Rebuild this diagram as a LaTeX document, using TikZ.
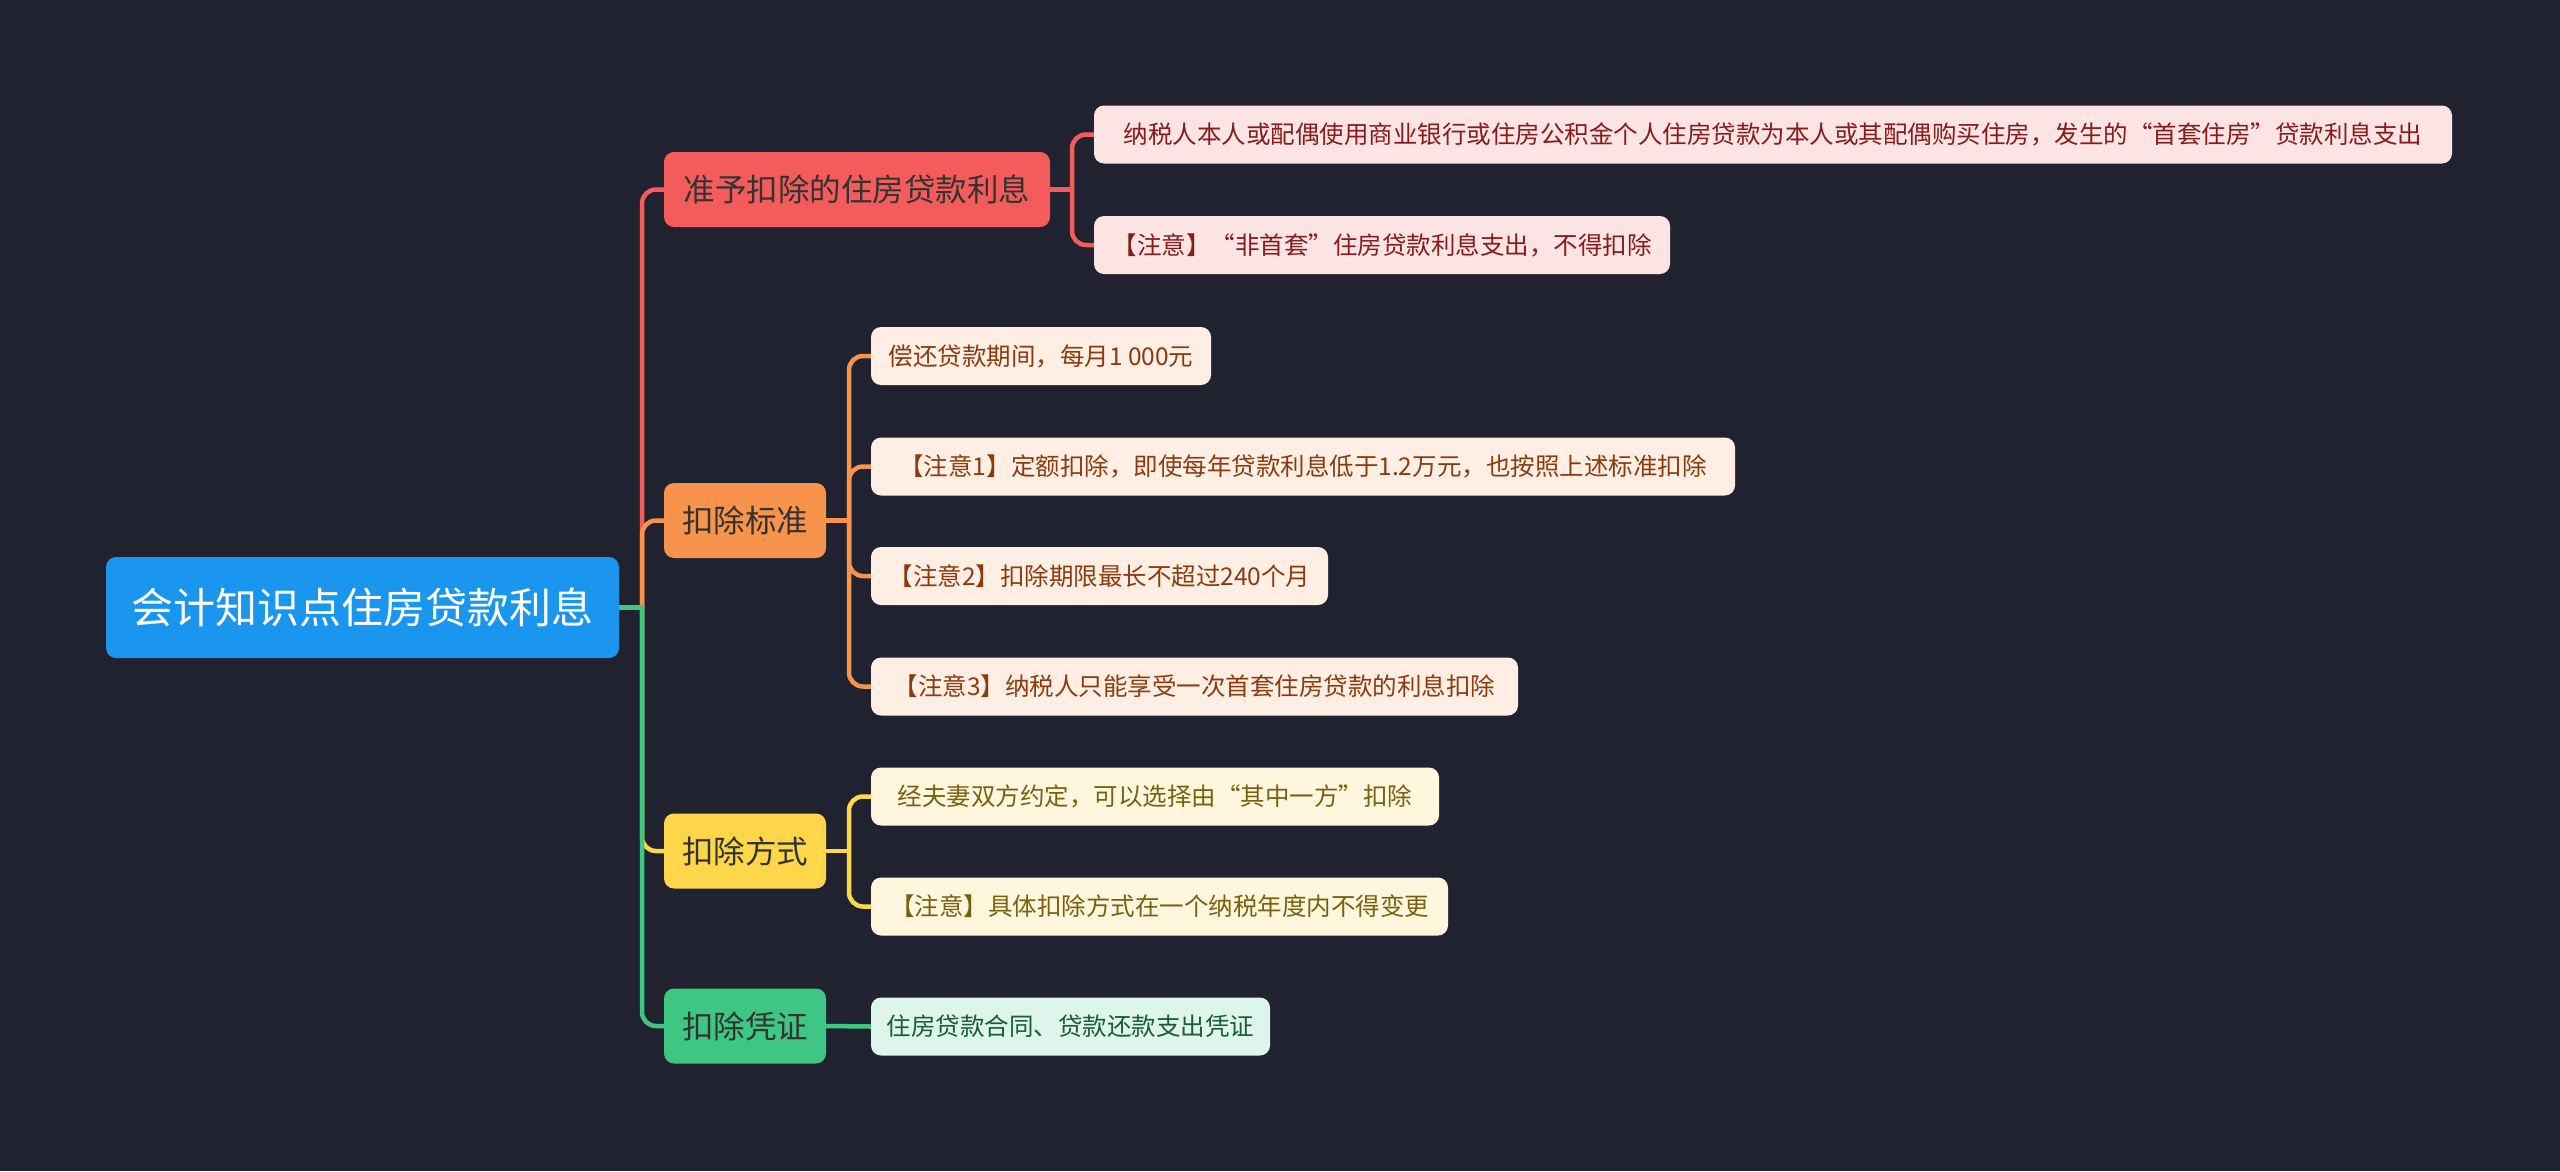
\documentclass[tikz,border=0pt]{standalone}
\usepackage{fontspec}
\newfontfamily\cjk{Noto Sans CJK SC}
\definecolor{bg}{HTML}{20232F}
\definecolor{rootc}{HTML}{1B96EF}
\definecolor{redc}{HTML}{F45C5C}
\definecolor{redl}{HTML}{FDE4E4}
\definecolor{redt}{HTML}{861C1C}
\definecolor{orc}{HTML}{F8934C}
\definecolor{orl}{HTML}{FEEEE3}
\definecolor{ort}{HTML}{8A3C0F}
\definecolor{yec}{HTML}{FDD649}
\definecolor{yel}{HTML}{FEF6DD}
\definecolor{yet}{HTML}{7A6110}
\definecolor{grc}{HTML}{3EC683}
\definecolor{grl}{HTML}{DDF5EA}
\definecolor{grt}{HTML}{1C5A3B}
\definecolor{brt}{HTML}{333333}
\pgfdeclarelayer{bglayer}
\pgfdeclarelayer{connlayer}
\pgfsetlayers{bglayer,connlayer,main}
\tikzset{
  box/.style={rectangle, rounded corners=10pt, inner sep=0pt, font=\cjk},
  rootbox/.style={box, fill=rootc, text=white, minimum height=101pt, font=\cjk\fontsize{42}{50}\selectfont},
  branchbox/.style={box, text=brt, minimum height=75pt, font=\cjk\fontsize{31.5}{38}\selectfont},
  leafbox/.style={box, minimum height=58pt, font=\cjk\fontsize{24.5}{30}\selectfont},
  conn/.style={line width=4.5pt, line cap=round},
  rconn/.style={conn, draw=redc},
  oconn/.style={conn, draw=orc},
  yconn/.style={conn, draw=yec},
  gconn/.style={conn, draw=grc},
}
\begin{document}
\begin{tikzpicture}[x=1pt,y=-1pt]
\useasboundingbox (0,0) rectangle (2560,1171);
\begin{pgfonlayer}{bglayer}
\fill[bg] (0,0) rectangle (2560,1171);
\end{pgfonlayer}

% root and branches
\node[rootbox, minimum width=513pt] (root) at (362.5,607.5) {会计知识点住房贷款利息};
\node[branchbox, fill=redc, minimum width=386pt] (b1) at (857,189.5) {准予扣除的住房贷款利息};
\node[branchbox, fill=orc, minimum width=162pt] (b2) at (745,520.5) {扣除标准};
\node[branchbox, fill=yec, minimum width=162pt] (b3) at (745,851) {扣除方式};
\node[branchbox, fill=grc, minimum width=162pt] (b4) at (745,1026) {扣除凭证};

% leaves
\node[leafbox, fill=redl, text=redt, minimum width=1358pt] (l1a) at (1773,134.5) {纳税人本人或配偶使用商业银行或住房公积金个人住房贷款为本人或其配偶购买住房，发生的“首套住房”贷款利息支出};
\node[leafbox, fill=redl, text=redt, minimum width=576pt] (l1b) at (1382,245) {【注意】“非首套”住房贷款利息支出，不得扣除};
\node[leafbox, fill=orl, text=ort, minimum width=340pt] (l2a) at (1041,356) {偿还贷款期间，每月1 000元};
\node[leafbox, fill=orl, text=ort, minimum width=864pt] (l2b) at (1303,466.5) {【注意1】定额扣除，即使每年贷款利息低于1.2万元，也按照上述标准扣除};
\node[leafbox, fill=orl, text=ort, minimum width=457pt] (l2c) at (1099.5,576) {【注意2】扣除期限最长不超过240个月};
\node[leafbox, fill=orl, text=ort, minimum width=647pt] (l2d) at (1194.5,686.5) {【注意3】纳税人只能享受一次首套住房贷款的利息扣除};
\node[leafbox, fill=yel, text=yet, minimum width=568pt] (l3a) at (1155,796.5) {经夫妻双方约定，可以选择由“其中一方”扣除};
\node[leafbox, fill=yel, text=yet, minimum width=577pt] (l3b) at (1159.5,906.5) {【注意】具体扣除方式在一个纳税年度内不得变更};
\node[leafbox, fill=grl, text=grt, minimum width=399pt] (l4a) at (1070.5,1026.5) {住房贷款合同、贷款还款支出凭证};

% junction coordinates
\coordinate (t) at (642,607.5);
\coordinate (s1) at (1072,189.5);
\coordinate (s2) at (849,520.5);
\coordinate (s3) at (849,851);

\begin{pgfonlayer}{connlayer}
% main connectors
\draw[rconn, rounded corners=14pt] (t) |- (b1.west);
\draw[oconn, rounded corners=14pt] (t) |- (b2.west);
\draw[yconn, rounded corners=14pt] (t) |- (b3.west);
\draw[gconn, rounded corners=14pt] (t) |- (b4.west);
\draw[gconn] (root.east) -- (t);

% sub connectors
\draw[rconn] (b1.east) -- (s1);
\draw[rconn, rounded corners=14pt] (s1) |- (l1a.west);
\draw[rconn, rounded corners=14pt] (s1) |- (l1b.west);

\draw[oconn] (b2.east) -- (s2);
\draw[oconn, rounded corners=14pt] (s2) |- (l2a.west);
\draw[oconn, rounded corners=14pt] (s2) |- (l2b.west);
\draw[oconn, rounded corners=14pt] (s2) |- (l2c.west);
\draw[oconn, rounded corners=14pt] (s2) |- (l2d.west);

\draw[yconn] (b3.east) -- (s3);
\draw[yconn, rounded corners=14pt] (s3) |- (l3a.west);
\draw[yconn, rounded corners=14pt] (s3) |- (l3b.west);

\draw[gconn] (b4.east) -- (l4a.west);
\end{pgfonlayer}
\end{tikzpicture}
\end{document}
